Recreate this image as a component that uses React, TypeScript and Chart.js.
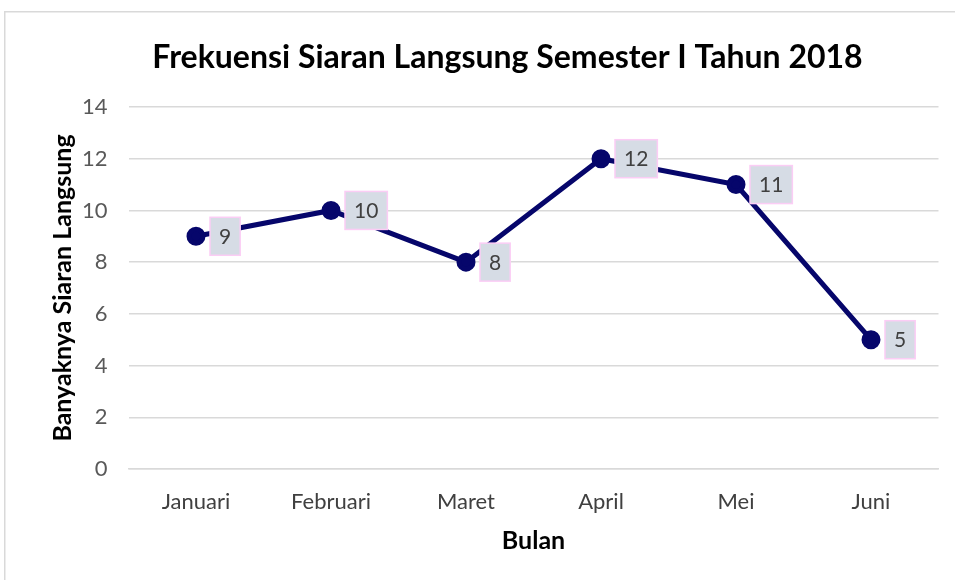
import React, { useEffect, useRef } from "react";
import { Chart, registerables } from "chart.js";

Chart.register(...registerables);

const months = ["Januari", "Februari", "Maret", "April", "Mei", "Juni"];
const siaranValues = [9, 10, 8, 12, 11, 5];
const chartTitle = "Frekuensi Siaran Langsung Semester I Tahun 2018";
const xTitle = "Bulan";
const yTitle = "Banyaknya Siaran Langsung";

const FONT = "Lato, 'Open Sans', sans-serif";

const framePlugin = {
  id: "frame",
  beforeDraw(chart: any) {
    const ctx = chart.ctx;
    ctx.save();
    ctx.fillStyle = "#ffffff";
    ctx.fillRect(0, 0, chart.width, chart.height);
    ctx.strokeStyle = "#d9d9d9";
    ctx.lineWidth = 1.5;
    ctx.beginPath();
    ctx.moveTo(4.75, chart.height);
    ctx.lineTo(4.75, 11.75);
    ctx.lineTo(chart.width, 11.75);
    ctx.stroke();
    ctx.restore();
  },
  afterDraw(chart: any) {
    const ctx = chart.ctx;
    ctx.save();
    ctx.font = `bold 32px ${FONT}`;
    ctx.fillStyle = "#000000";
    ctx.textAlign = "center";
    ctx.textBaseline = "middle";
    ctx.fillText(chartTitle, 507.5, 58);
    ctx.restore();
  },
};

const labelPlugin = {
  id: "boxLabels",
  afterDatasetsDraw(chart: any) {
    const ctx = chart.ctx;
    const meta = chart.getDatasetMeta(0);
    const data = chart.data.datasets[0].data;
    ctx.save();
    ctx.font = `21px ${FONT}`;
    meta.data.forEach((pt: any, i: number) => {
      const txt = String(data[i]);
      const tw = ctx.measureText(txt).width;
      const w = tw + 18;
      const h = 38;
      const x = pt.x + 14;
      const y = pt.y - h / 2;
      ctx.fillStyle = "#d6dce5";
      ctx.fillRect(x, y, w, h);
      ctx.strokeStyle = "#fbcdf5";
      ctx.lineWidth = 1.5;
      ctx.strokeRect(x, y, w, h);
      ctx.fillStyle = "#404040";
      ctx.textAlign = "center";
      ctx.textBaseline = "middle";
      ctx.fillText(txt, x + w / 2, pt.y + 1);
    });
    ctx.restore();
  },
};

export default function App() {
  const ref = useRef<HTMLCanvasElement | null>(null);
  useEffect(() => {
    if (!ref.current) return;
    const chart = new Chart(ref.current, {
      type: "line",
      data: {
        labels: months,
        datasets: [
          {
            data: siaranValues,
            borderColor: "#06066b",
            backgroundColor: "#06066b",
            borderWidth: 5,
            pointRadius: 7,
            pointHoverRadius: 7,
            pointBackgroundColor: "#06066b",
            pointBorderColor: "#06066b",
            tension: 0,
          },
        ],
      },
      options: {
        animation: false,
        responsive: false,
        maintainAspectRatio: false,
        layout: { padding: { left: 44, right: 16.5, top: 107, bottom: 20 } },
        plugins: {
          legend: { display: false },
          tooltip: { enabled: false },
          title: { display: false },
        },
        scales: {
          x: {
            offset: true,
            grid: { display: false, drawTicks: false },
            border: { display: true, color: "#d9d9d9", width: 1.5 },
            ticks: {
              color: "#404040",
              font: { family: FONT, size: 22 },
              padding: 20,
              maxRotation: 0,
            },
            title: {
              display: true,
              text: xTitle,
              color: "#000000",
              font: { family: FONT, size: 25, weight: "bold" },
              padding: { top: 4, bottom: 4 },
            },
            afterFit(scale: any) {
              scale.height = 91;
            },
          },
          y: {
            min: 0,
            max: 14,
            grid: { color: "#d9d9d9", lineWidth: 1.5, drawTicks: false },
            border: { display: false },
            ticks: {
              stepSize: 2,
              color: "#595959",
              font: { family: FONT, size: 22 },
              padding: 21,
            },
            title: {
              display: true,
              text: yTitle,
              color: "#000000",
              font: { family: FONT, size: 25, weight: "bold" },
              padding: { top: 4, bottom: 4 },
            },
            afterFit(scale: any) {
              scale.width = 84.5;
            },
          },
        },
      },
      plugins: [framePlugin, labelPlugin],
    });
    return () => chart.destroy();
  }, []);
  return (
    <div style={{ position: "fixed", left: 0, top: 0, width: 955, height: 580 }}>
      <canvas ref={ref} width={955} height={580} style={{ width: 955, height: 580, display: "block" }} />
    </div>
  );
}
